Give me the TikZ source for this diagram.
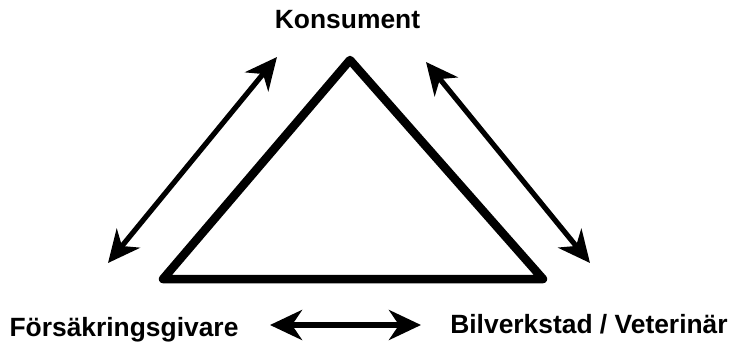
\documentclass[tikz,border=0pt]{standalone}
\usepackage{fontspec}
\setmainfont{Liberation Sans}
\usetikzlibrary{arrows.meta}
\tikzset{
  lbl/.style={font=\bfseries\fontsize{26.4}{30}\selectfont, anchor=base, inner sep=0pt},
  tri/.style={line width=8.5pt, line join=round},
  dbl/.style={line width=5.2pt, {Stealth[length=32pt,width=30pt,inset=10pt]}-{Stealth[length=32pt,width=30pt,inset=10pt]}}
}
\begin{document}
\begin{tikzpicture}[x=1pt,y=-1pt]
\useasboundingbox (0,0) rectangle (733,343);
\node[lbl] (kons) at (347.5,28) {Konsument};
\node[lbl] (fors) at (124,336) {Försäkringsgivare};
\node[lbl] (bil) at (589,333) {Bilverkstad / Veterinär};
\coordinate (A) at (350,60);
\coordinate (B) at (163,279);
\coordinate (C) at (543,279);
\draw[tri] (A) -- (B) -- (C) -- cycle;
\coordinate (l1) at (277,57);
\coordinate (l2) at (108,263);
\coordinate (r1) at (426,62);
\coordinate (r2) at (590,263);
\coordinate (b1) at (270,325);
\coordinate (b2) at (421,325);
\draw[dbl] (l1) -- (l2);
\draw[dbl] (r1) -- (r2);
\draw[dbl] (b1) -- (b2);
\end{tikzpicture}
\end{document}
